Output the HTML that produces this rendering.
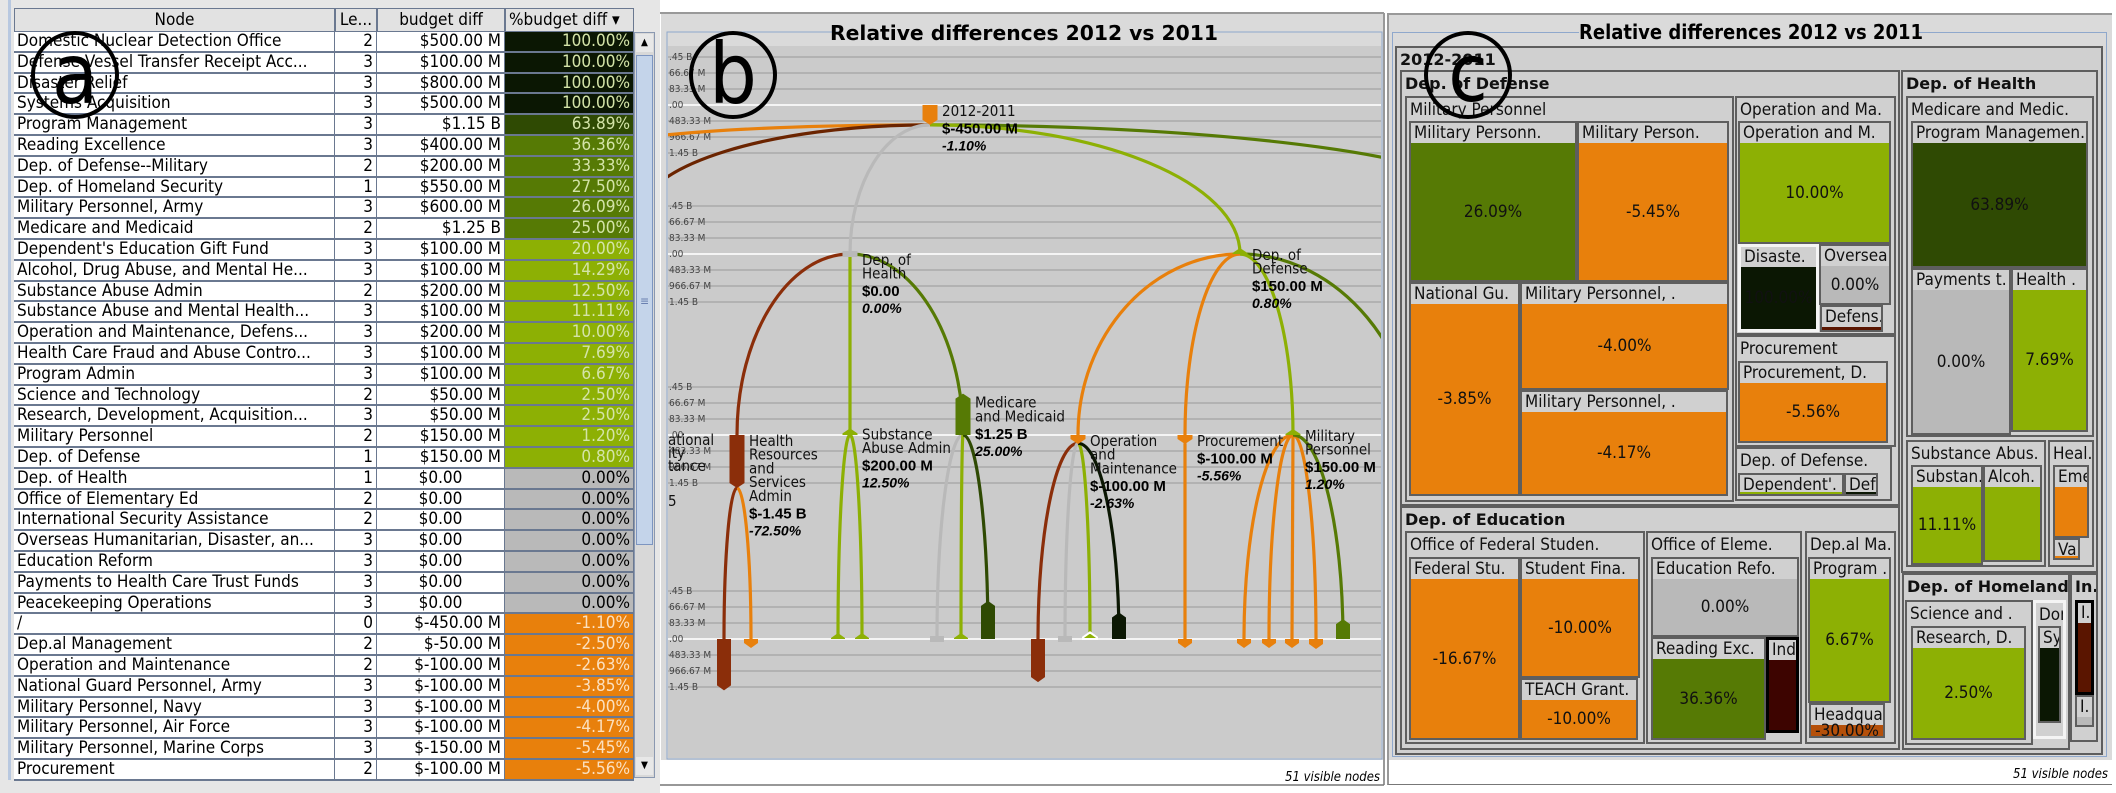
<!DOCTYPE html>
<html><head><meta charset="utf-8"><title>Relative differences 2012 vs 2011</title>
<style>
*{box-sizing:border-box;margin:0;padding:0}
body{width:2116px;height:793px;background:#fff;position:relative;overflow:hidden;font-family:"DejaVu Sans Condensed","Liberation Sans Narrow","Liberation Sans",sans-serif;font-stretch:condensed}
.abs{position:absolute}
#pa{left:0;top:0;width:660px;height:793px;background:#e6e6e6}
.cell{position:absolute;height:20.8px;border-right:1px solid #6a7890;border-bottom:2px solid #6a7890;font-size:17px;line-height:19px;white-space:nowrap;overflow:hidden;padding:0 3px}
.hd{position:absolute;top:8px;height:24px;background:#e2e2e2;border:1px solid #6a7890;font-size:17px;line-height:22px;text-align:center;white-space:nowrap;overflow:hidden}
.tm{position:absolute;border:2px solid #5e5e5e;background:#d0d0d0;overflow:hidden;white-space:nowrap}
.tm .lb{position:absolute;left:3px;top:0;font-size:17px;line-height:20px;color:#111}
.tm .lb.b{font-family:"DejaVu Sans","Liberation Sans",sans-serif;font-weight:bold;font-stretch:normal;font-size:16px}
.tm .cl{position:absolute;left:0;right:0;bottom:0;display:flex;align-items:center;justify-content:center;font-size:17px;color:#111}
</style></head><body>

<div id="pa" class="abs">
  <div class="abs" style="left:8px;top:0;width:3px;height:780px;background:#b8c8e0"></div>
  <div class="hd" style="left:14px;width:321px">Node</div>
  <div class="hd" style="left:335px;width:42px">Le...</div>
  <div class="hd" style="left:377px;width:128px">budget diff</div>
  <div class="hd" style="left:505px;width:129px;text-align:left;padding-left:3px">%budget diff ▾</div>
  <div id="rows" class="abs" style="left:0;top:0"></div>
  <div class="abs" style="left:634px;top:32px;width:21px;height:746px;background:#d8d8d8;border:1px solid #8a98b0">
    <div class="abs" style="left:1px;top:1px;width:17px;height:18px;background:#e8e8e8;font-size:10px;text-align:center;line-height:18px">▲</div>
    <div class="abs" style="left:1px;top:22px;width:17px;height:490px;background:#c4d4ea;border:1px solid #7d95c0;text-align:center;font-size:12px;line-height:490px;color:#6a80b0">≡</div>
    <div class="abs" style="left:1px;top:724px;width:17px;height:18px;background:#e8e8e8;font-size:10px;text-align:center;line-height:18px">▼</div>
  </div>
</div>

<svg class="abs" style="left:0;top:0" width="2116" height="793">
  <g id="pb"></g>
</svg>

<div id="pc" class="abs" style="left:1385px;top:0;width:731px;height:793px"></div>

<svg class="abs" style="left:0;top:0;pointer-events:none" width="2116" height="793">
  <g><circle cx="75" cy="75" r="42" fill="none" stroke="#000" stroke-width="4"/><text x="75" y="103" font-family="DejaVu Sans,sans-serif" font-size="84" text-anchor="middle">a</text></g>
  <g><circle cx="733" cy="75" r="42" fill="none" stroke="#000" stroke-width="4"/><text x="733" y="103" font-family="DejaVu Sans,sans-serif" font-size="84" text-anchor="middle">b</text></g>
  <g><circle cx="1468" cy="75" r="42" fill="none" stroke="#000" stroke-width="4"/><text x="1468" y="101" font-family="DejaVu Sans,sans-serif" font-size="80" text-anchor="middle">c</text></g>
</svg>

<script>
// ---------- Table (panel a) ----------
const tNames=["Domestic Nuclear Detection Office","Defense Vessel Transfer Receipt Acc...","Disaster Relief","Systems Acquisition","Program Management","Reading Excellence","Dep. of Defense--Military","Dep. of Homeland Security","Military Personnel, Army","Medicare and Medicaid","Dependent's Education Gift Fund","Alcohol, Drug Abuse, and Mental He...","Substance Abuse Admin","Substance Abuse and Mental Health...","Operation and Maintenance, Defens...","Health Care Fraud and Abuse Contro...","Program Admin","Science and Technology","Research, Development, Acquisition...","Military Personnel","Dep. of Defense","Dep. of Health","Office of Elementary Ed","International Security Assistance","Overseas Humanitarian, Disaster, an...","Education Reform","Payments to Health Care Trust Funds","Peacekeeping Operations","/","Dep.al Management","Operation and Maintenance","National Guard Personnel, Army","Military Personnel, Navy","Military Personnel, Air Force","Military Personnel, Marine Corps","Procurement"];
const tLevels=[2,3,3,3,3,3,2,1,3,2,3,3,2,3,3,3,3,2,3,2,1,1,2,2,3,3,3,3,0,2,2,3,3,3,3,2];
const tBudget=["$500.00 M","$100.00 M","$800.00 M","$500.00 M","$1.15 B","$400.00 M","$200.00 M","$550.00 M","$600.00 M","$1.25 B","$100.00 M","$100.00 M","$200.00 M","$100.00 M","$200.00 M","$100.00 M","$100.00 M","$50.00 M","$50.00 M","$150.00 M","$150.00 M","$0.00","$0.00","$0.00","$0.00","$0.00","$0.00","$0.00","$-450.00 M","$-50.00 M","$-100.00 M","$-100.00 M","$-100.00 M","$-100.00 M","$-150.00 M","$-100.00 M"];
const tPct=[100,100,100,100,63.89,36.36,33.33,27.5,26.09,25,20,14.29,12.5,11.11,10,7.69,6.67,2.5,2.5,1.2,0.8,0,0,0,0,0,0,0,-1.1,-2.5,-2.63,-3.85,-4,-4.17,-5.45,-5.56];
function pctColor(p){if(p>=99)return "#0b1703";if(p>=50)return "#2f4a03";if(p>=25)return "#567a05";if(p>0)return "#8db004";if(p===0)return "#b9b9b9";if(p>-20)return "#e8800c";if(p>-50)return "#b5500a";return "#8b2e0a";}
const rowsEl=document.getElementById('rows');
for(let i=0;i<tNames.length;i++){
  const y=32+i*20.8;
  const mk=(x,w,txt,align,bg,col)=>{const d=document.createElement('div');d.className='cell';d.style.left=x+'px';d.style.top=y+'px';d.style.width=w+'px';d.style.textAlign=align;d.style.background=bg;d.style.color=col;d.textContent=txt;rowsEl.appendChild(d);return d;};
  const a=mk(14,321,tNames[i],'left','#fff','#000');
  
  
  const b=mk(335,42,String(tLevels[i]),'right','#fff','#000');
  
  
  const zero=tBudget[i]==="$0.00";
  const c=mk(377,128,tBudget[i],zero?'center':'right','#fff','#000');
  
  
  const p=tPct[i];
  const d=mk(505,129,p.toFixed(2)+'%','right',pctColor(p),p===0?'#000':(p>0?'#d4e4a8':'#fbe0c0'));
  
  
}

// ---------- Arc tree (panel b) ----------
const NS='http://www.w3.org/2000/svg';
const pb=document.getElementById('pb');
function el(tag,attrs,parent){const e=document.createElementNS(NS,tag);for(const k in attrs)e.setAttribute(k,attrs[k]);(parent||pb).appendChild(e);return e;}
const levelY=[105,254,435,639];
const tickLabelsUp=[".45 B","66.67 M","83.33 M"];
const tickLabelsDown=["483.33 M","966.67 M","1.45 B"];
const pxPerM=16/483.33;
function yScale(levelIdx,valueM){return levelY[levelIdx]-valueM*pxPerM;}
const nodeIds=["root","health","defense","hrsa","subst","medicare","om","proc","milp","l1","l2","l3","l4","l5","l6","l7","l8","l9","l10","l11","l12","l13","l14","l15","l16","l17"];
const nodeParents=[null,"root","root","health","health","health","defense","defense","defense","hrsa","hrsa","subst","subst","medicare","medicare","medicare","om","om","om","om","proc","milp","milp","milp","milp","milp"];
const nodeLevels=[0,1,1,2,2,2,2,2,2,3,3,3,3,3,3,3,3,3,3,3,3,3,3,3,3,3];
const nodeValues=[-450,0,150,-1450,200,1250,-100,-100,150,-1400,-100,100,100,0,100,1150,-1150,0,200,800,-100,-100,-100,-100,-150,600];
const nodePcts=[-1.10,0,0.80,-72.5,12.5,25,-2.63,-5.56,1.2,-70,-5,14.29,11.11,0,7.69,63.89,-60,0,10,100,-5.56,-3.85,-4,-4.17,-5.45,26.09];
const nodeColX=[930,850,1240,737,850,963,1078,1185,1293,724,751,838,862,937,961,988,1038,1065,1090,1119,1185,1244,1269,1292,1316,1343];
const nodeLabels={root:["2012-2011"],health:["Dep. of","Health"],defense:["Dep. of","Defense"],hrsa:["Health","Resources","and","Services","Admin"],subst:["Substance","Abuse Admin"],medicare:["Medicare","and Medicaid"],om:["Operation","and","Maintenance"],proc:["Procurement"],milp:["Military","Personnel"]};
const nodeValueText={root:"$-450.00 M",health:"$0.00",defense:"$150.00 M",hrsa:"$-1.45 B",subst:"$200.00 M",medicare:"$1.25 B",om:"$-100.00 M",proc:"$-100.00 M",milp:"$150.00 M"};
function nodeColor(i){if(nodeIds[i]==="root")return "#e8800c";return pctColor(nodePcts[i]);}

el('rect',{x:660,y:0,width:725,height:793,fill:'#fff',});
el('line',{x1:660,y1:13,x2:1384,y2:13,stroke:'#999','stroke-width':2});
el('line',{x1:1384,y1:13,x2:1384,y2:785,stroke:'#999','stroke-width':2});
el('rect',{x:661,y:14,width:722,height:771,fill:'#dadada'});
el('rect',{x:667,y:32,width:715,height:727,fill:'none',stroke:'#8fa8cc','stroke-width':1});
el('rect',{x:668,y:46,width:713,height:712,fill:'#cbcbcb',});
el('rect',{x:661,y:760,width:722,height:25,fill:'#fff'});
el('line',{x1:660,y1:785,x2:1384,y2:785,stroke:'#777','stroke-width':1.5});
el('rect',{x:840,y:24,width:370,height:18,fill:'#dadada'});
const tt=el('text',{x:1024,y:40,'text-anchor':'middle','font-family':'"DejaVu Sans","Liberation Sans",sans-serif','font-weight':'bold','font-size':20,textLength:388,lengthAdjust:'spacingAndGlyphs',});
tt.textContent='Relative differences 2012 vs 2011';
const st=el('text',{x:1380,y:781,'text-anchor':'end','font-family':'"DejaVu Sans Condensed","DejaVu Sans",sans-serif','font-style':'italic','font-size':13,});
st.textContent='51 visible nodes';

const clip=el('clipPath',{id:'pclip'});el('rect',{x:668,y:46,width:713,height:712},clip);
const g=el('g',{'clip-path':'url(#pclip)'});
levelY.forEach((L,li)=>{
  for(let k=-3;k<=3;k++){
    const y=L+k*16;
    const ln=el('line',{x1:668,y1:y,x2:1381,y2:y,stroke:k===0?'#f4f4f4':'#b2b2b2','stroke-width':2},g);
    
    
    const lab=k<0?tickLabelsUp[k+3]:(k===0?".00":tickLabelsDown[k-1]);
    const tx=el('text',{x:669,y:y+3,'font-size':10,fill:'#444','font-family':'"DejaVu Sans Condensed","DejaVu Sans",sans-serif'},g);
    tx.textContent=lab;
    
    
  }
});
function idx(id){return nodeIds.indexOf(id);}
function arcPath(x1,y1,x2,y2){const cx1=x1+0.55*(x2-x1),cy2=y1+0.45*(y2-y1);return `M${x1},${y1} C${cx1},${y1} ${x2},${cy2} ${x2},${y2}`;}
function anchor(i){const L=levelY[nodeLevels[i]];const v=nodeValues[i];const y=yScale(nodeLevels[i],v);return {x:nodeColX[i],top:L,end:v<0?Math.max(y,L)+5:L};}
const offArcs=[["root","#e8800c",600,150],["root","#6b2400",640,215],["root","#567a05",1480,200],["defense","#567a05",1420,470]];
offArcs.forEach(a=>{const p=anchor(idx(a[0]));const pth=el('path',{d:arcPath(p.x,p.end,a[2],a[3]),fill:'none',stroke:a[1],'stroke-width':3.2},g);
  
  });
for(let i=1;i<nodeIds.length;i++){
  const pi=idx(nodeParents[i]);const p=anchor(pi);const c=nodeColX[i];const L=levelY[nodeLevels[i]];
  const px=p.x, py=p.end;
  let d=Math.abs(c-px)<2?`M${px},${py} L${c},${L}`:arcPath(px,py,c,L);
  const pth=el('path',{d:d,fill:'none',stroke:nodeColor(i),'stroke-width':3.2},g);
  
  
}
for(let i=0;i<nodeIds.length;i++){
  const L=levelY[nodeLevels[i]];const v=nodeValues[i];const x=nodeColX[i];const col=nodeColor(i);
  const y=yScale(nodeLevels[i],v);const w=i<9?15:14;const hw=w/2;
  let d;
  if(v===0){d=`M${x-hw},${L-3} h${w} v6 h${-w} Z`;}
  else if(v>0){const top=Math.min(y,L-6);d=`M${x-hw},${L} V${top+5} L${x},${top} L${x+hw},${top+5} V${L} Z`;}
  else{const bot=Math.max(y,L+4);d=`M${x-hw},${L} V${bot} L${x},${bot+5} L${x+hw},${bot} V${L} Z`;}
  const stroke=nodeIds[i]==="l10"?'#fff':'none';
  const m=el('path',{d:d,fill:col,stroke:stroke,'stroke-width':2},g);
  
  
  if(nodeLabels[nodeIds[i]]){
    const lines=nodeLabels[nodeIds[i]];
    let top=v>0?Math.min(y,L):L;let by=top+(nodeIds[i]==='medicare'?14:11);
    const gx=x+12;
    lines.forEach((s,k)=>{const t=el('text',{x:gx,y:by+k*13.7,'font-size':15,fill:'#111','font-family':'"DejaVu Sans Condensed","Liberation Sans Narrow","DejaVu Sans",sans-serif'},g);t.textContent=s;
      
      });
    const vy=by+(lines.length-1)*13.7+17.5;
    const tv=el('text',{x:gx,y:vy,'font-size':15,'font-weight':'bold',fill:'#000','font-family':'"Liberation Sans",sans-serif'},g);tv.textContent=nodeValueText[nodeIds[i]];
    
    
    const tp=el('text',{x:gx,y:vy+17,'font-size':14,'font-weight':'bold','font-style':'italic',fill:'#000','font-family':'"Liberation Sans",sans-serif'},g);tp.textContent=nodePcts[i].toFixed(2)+'%';
    
    
  }
}
[["ational",445],["ity",458],["tance",471],["5",506]].forEach(a=>{const t=el('text',{x:668,y:a[1],'font-size':15,fill:'#111','font-family':'"DejaVu Sans Condensed","DejaVu Sans",sans-serif'},g);t.textContent=a[0];
  
  });

// ---------- Treemap (panel c) ----------
const pc=document.getElementById('pc');
const OX=1385;
const OR="#e8800c",LG="#8db004",OL="#567a05",DK="#0b1703",GR="#b9b9b9";
const tmGroups=[["2012-2011",1395,46,2103,755,1],["Dep. of Defense",1400,70,1900,506,1],["Dep. of Health",1901,70,2098,573,1],["Dep. of Education",1400,506,1900,750,1],["Dep. of Homeland.",1902,573,2070,750,1],["In.",2070,573,2098,742,1],["Military Personnel",1405,96,1734,502,0],["Operation and Ma.",1735,96,1896,335,0],["Procurement",1735,335,1896,447,0],["Dep. of Defense.",1735,447,1892,501,0],["Office of Federal Studen.",1405,531,1645,744,0],["Office of Eleme.",1646,531,1802,744,0],["Dep.al Ma.",1805,531,1896,744,0],["Medicare and Medic.",1906,96,2094,437,0],["Substance Abus.",1906,440,2046,567,0],["Heal.",2048,440,2094,567,0],["Science and .",1905,600,2033,745,0],["Dom.",2033,600,2066,739,0]];
const tmLeafNames=["Military Personn.","Military Person.","National Gu.","Military Personnel, .","Military Personnel, .","Operation and M.","Disaste.","Oversea.","Defens.","Procurement, D.","Dependent'.","Def.","Federal Stu.","Student Fina.","TEACH Grant.","Education Refo.","Reading Exc.","Ind","Program .","Headqua.","Program Managemen.","Payments t.","Health .","Substan.","Alcoh.","Eme.","Va.","Research, D.","Sy.","I.","I."];
const tmLeafPcts=[26.09,-5.45,-3.85,-4.00,-4.17,10.00,100,0,-70,-5.56,20,100,-16.67,-10,-10,0,36.36,-80,6.67,-30,63.89,0,7.69,11.11,14.29,-5,-5,2.5,100,-70,0];
const tmLeafShowVal=[1,1,1,1,1,1,1,1,0,1,0,0,1,1,1,1,1,0,1,1,1,1,1,1,0,0,0,1,0,0,0];
const tmLeafRects=[[1409,121,1577,282],[1577,121,1729,282],[1409,282,1520,496],[1520,282,1729,390],[1520,390,1728,496],[1738,121,1891,244],[1738,244,1819,332],[1819,244,1891,305],[1820,305,1883,332],[1738,361,1888,443],[1738,473,1844,496],[1844,473,1878,496],[1409,557,1520,740],[1520,557,1640,678],[1520,678,1638,740],[1651,557,1799,637],[1651,637,1766,740],[1766,637,1799,733],[1808,557,1891,703],[1809,703,1885,738],[1911,121,2088,268],[1911,268,2011,435],[2011,268,2088,432],[1911,465,1983,565],[1983,465,2042,562],[2053,465,2089,538],[2053,538,2080,560],[1911,626,2026,740],[2038,626,2061,723],[2075,600,2094,695],[2075,695,2094,727]];
function tmColor(p){if(p>=99)return DK;if(p>=50)return "#2f4a03";if(p>=25)return OL;if(p>0)return LG;if(p===0)return GR;if(p>-20)return OR;if(p>-50)return "#b5500a";if(p>-75)return "#5a1500";return "#3d0400";}
const chrome=document.createElement('div');chrome.className='abs';
chrome.style.cssText='left:2px;top:13px;width:725px;height:772px;background:#dadada;border-top:2px solid #999;border-left:2px solid #999;border-bottom:1.5px solid #777';


pc.appendChild(chrome);
const inner=document.createElement('div');inner.className='abs';
inner.style.cssText='left:7px;top:32px;width:715px;height:725px;border:1px solid #8fa8cc';


pc.appendChild(inner);
const ttl=document.createElement('div');ttl.className='abs';
ttl.style.cssText='left:194px;top:20px;width:340px;height:24px;background:#dadada;text-align:center;font-family:"DejaVu Sans","Liberation Sans",sans-serif;font-stretch:condensed;font-weight:bold;font-size:20px;line-height:24px;white-space:nowrap';
ttl.textContent='Relative differences 2012 vs 2011';


pc.appendChild(ttl);
const bw=document.createElement('div');bw.className='abs';
bw.style.cssText='left:4px;top:760px;width:723px;height:24px;background:#fff;text-align:right;font-style:italic;font-size:13px;line-height:30px;padding-right:4px';
bw.textContent='51 visible nodes';


pc.appendChild(bw);
function box(x1,y1,x2,y2){const d=document.createElement('div');d.className='tm';d.style.left=(x1-OX)+'px';d.style.top=y1+'px';d.style.width=(x2-x1)+'px';d.style.height=(y2-y1)+'px';pc.appendChild(d);return d;}
tmGroups.forEach(gp=>{
  const d=box(gp[1],gp[2],gp[3],gp[4]);
  
  
  if(gp[0]==="Dom.")d.style.border='3px solid #f4f4f4';
  const l=document.createElement('div');l.className='lb'+(gp[5]?' b':'');l.textContent=gp[0];l.style.top='2px';d.appendChild(l);
});
tmLeafNames.forEach((nm,i)=>{
  const r=tmLeafRects[i];const d=box(r[0],r[1],r[2],r[3]);
  
  
  if(nm==="Disaste.")d.style.border='3px solid #f4f4f4';
  if(nm==="Ind"||(nm==="I."&&i===29))d.style.border='3px solid #000';
  const h=r[3]-r[1];
  const hh=Math.min(20,Math.max(h-6,0));
  const l=document.createElement('div');l.className='lb';l.textContent=nm;d.appendChild(l);
  const c=document.createElement('div');c.className='cl';c.style.top=hh+'px';c.style.background=tmColor(tmLeafPcts[i]);
  if(tmLeafShowVal[i])c.textContent=tmLeafPcts[i].toFixed(2)+'%';
  d.appendChild(c);
});
</script>
</body></html>
